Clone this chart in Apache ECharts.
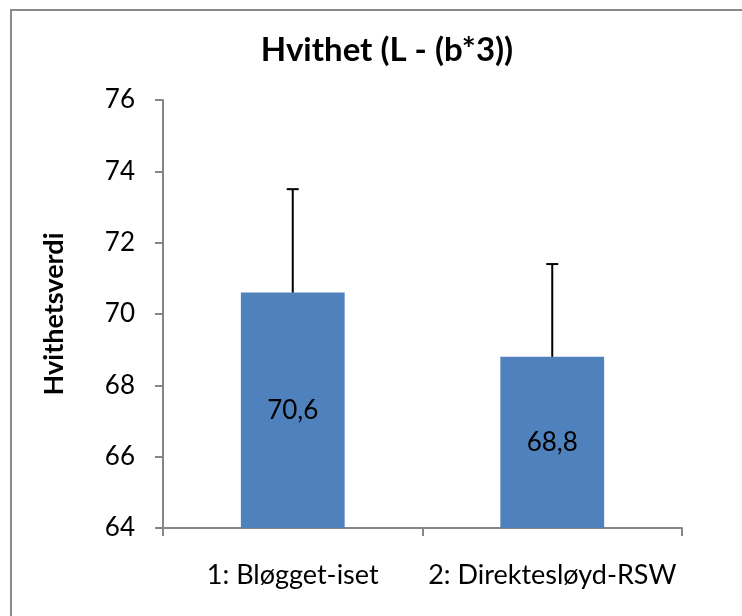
<!DOCTYPE html>
<html>
<head>
<meta charset="utf-8">
<script src="https://cdn.jsdelivr.net/npm/echarts@6/dist/echarts.min.js"></script>
<style>
html,body{margin:0;padding:0;background:#fff;}
#chart{width:742px;height:616px;}
</style>
</head>
<body>
<div id="chart"></div>
<script>
const titleText = 'Hvithet (L - (b*3))';
const yAxisName = 'Hvithetsverdi';
const categories = ['1: Bløgget-iset', '2: Direktesløyd-RSW'];
const values = [70.6, 68.8];
const errorUpper = [73.5, 71.4];
const yMin = 64, yMax = 76, yStep = 2;

const FONT = 'Lato, "Liberation Sans", sans-serif';
const chart = echarts.init(document.getElementById('chart'));
chart.setOption({
  animation: false,
  backgroundColor: '#fff',
  graphic: [{
    type: 'rect', shape: {x: 11, y: 10, width: 900, height: 900},
    style: {fill: 'none', stroke: '#8a8a8a', lineWidth: 2}, silent: true, z: -1
  }],
  title: {
    text: titleText, left: 382, top: 29, textAlign: 'center',
    textStyle: {fontFamily: FONT, fontWeight: 'bold', fontSize: 33, color: '#000'}
  },
  grid: {left: 163, right: 60, top: 100, bottom: 88, containLabel: false},
  xAxis: {
    type: 'category', data: categories,
    axisLine: {lineStyle: {color: '#868686', width: 2}},
    axisTick: {show: true, length: 8, lineStyle: {color: '#868686', width: 2}},
    axisLabel: {fontFamily: FONT, fontSize: 27, color: '#000', margin: 34, interval: 0}
  },
  yAxis: {
    type: 'value', min: yMin, max: yMax, interval: yStep,
    name: yAxisName, nameLocation: 'middle', nameGap: 95, nameRotate: 90,
    nameTextStyle: {fontFamily: FONT, fontWeight: 'bold', fontSize: 27, color: '#000'},
    axisLine: {show: true, lineStyle: {color: '#868686', width: 2}},
    axisTick: {show: true, length: 8, lineStyle: {color: '#868686', width: 2}},
    splitLine: {show: false},
    axisLabel: {fontFamily: FONT, fontSize: 26, color: '#000', margin: 28}
  },
  series: [{
    type: 'bar', data: values, barWidth: '40%',
    itemStyle: {color: '#4f81bd'},
    label: {
      show: true, position: 'inside', fontFamily: FONT, fontSize: 26, color: '#000',
      formatter: p => String(p.value).replace('.', ',')
    }
  }, {
    type: 'custom',
    data: values.map((v, i) => [i, v, errorUpper[i]]),
    z: 10,
    renderItem: function (params, api) {
      const base = api.coord([api.value(0), api.value(1)]);
      const top = api.coord([api.value(0), api.value(2)]);
      const hw = 6;
      return {
        type: 'group',
        children: [
          {type: 'line', shape: {x1: base[0], y1: base[1], x2: top[0], y2: top[1]}, style: {stroke: '#000', lineWidth: 2}},
          {type: 'line', shape: {x1: top[0] - hw, y1: top[1], x2: top[0] + hw, y2: top[1]}, style: {stroke: '#000', lineWidth: 2}}
        ]
      };
    }
  }]
});
</script>
</body>
</html>
